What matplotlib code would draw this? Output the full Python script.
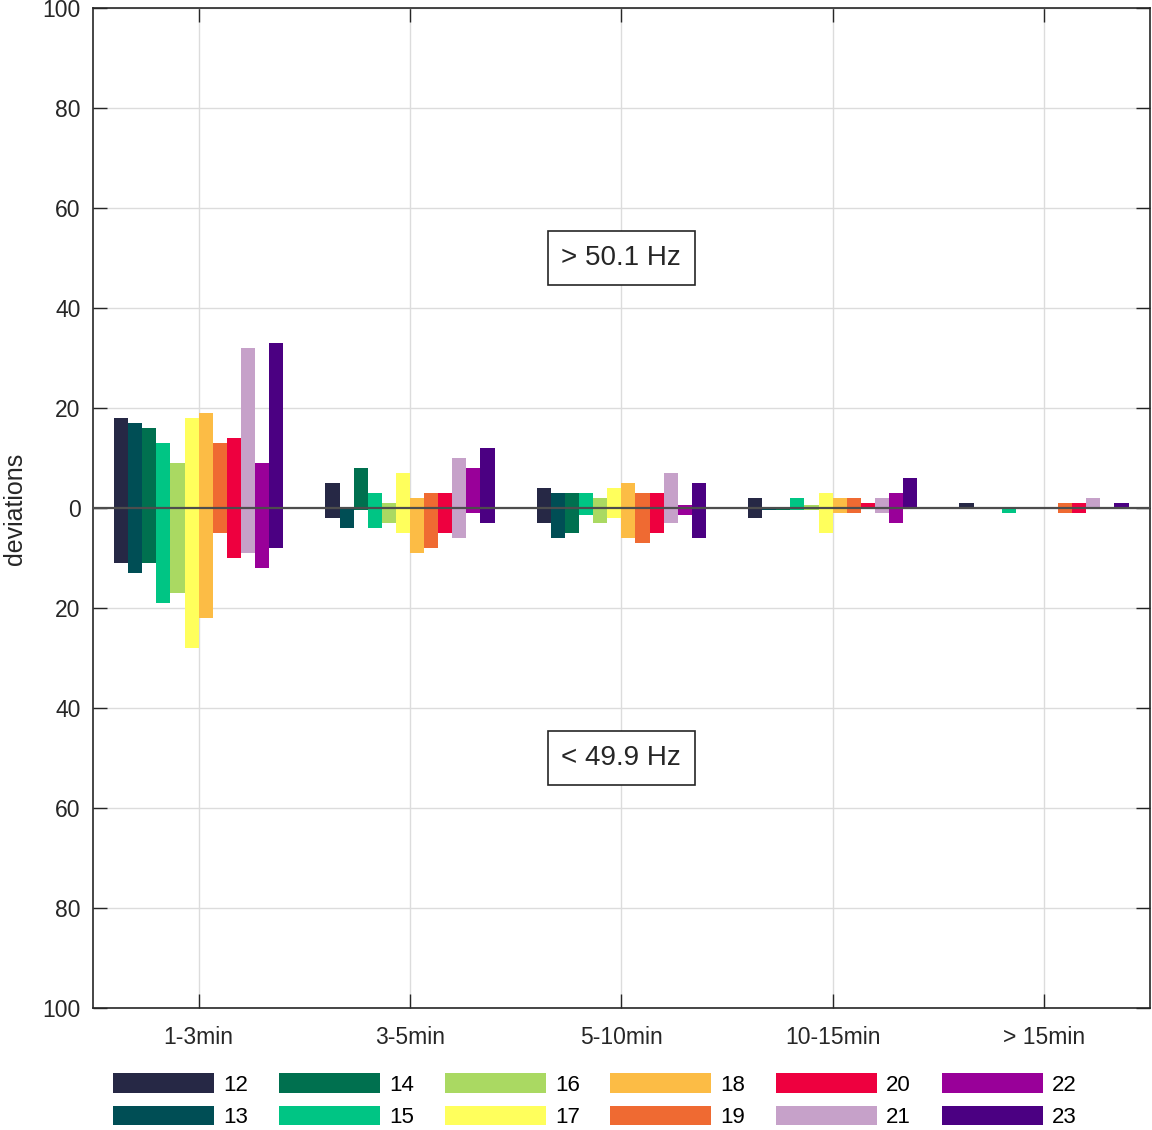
import numpy as np
import matplotlib.pyplot as plt
from matplotlib.ticker import FuncFormatter

plt.rcParams['font.family'] = ['Liberation Sans', 'DejaVu Sans']

# categories (duration of frequency deviation) and series (years)
categories = ['1-3min', '3-5min', '5-10min', '10-15min', '> 15min']
years = ['12', '13', '14', '15', '16', '17', '18', '19', '20', '21', '22', '23']
colors = ['#262845', '#004E55', '#00704F', '#00C584', '#AAD962', '#FFFF5C',
          '#FCBC45', '#EF6A32', '#EE003F', '#C6A1C9', '#990099', '#4B0082']

# deviations above 50.1 Hz, one list per year, one value per category
above = {
    '12': [18, 5, 4, 2, 1],
    '13': [17, 0, 3, 0, 0],
    '14': [16, 8, 3, 0, 0],
    '15': [13, 3, 3, 2, 0],
    '16': [9, 1, 2, 0.5, 0],
    '17': [18, 7, 4, 3, 0],
    '18': [19, 2, 5, 2, 0],
    '19': [13, 3, 3, 2, 1],
    '20': [14, 3, 3, 1, 1],
    '21': [32, 10, 7, 2, 2],
    '22': [9, 8, 0.5, 3, 0],
    '23': [33, 12, 5, 6, 1],
}
# deviations below 49.9 Hz (drawn downward)
below = {
    '12': [11, 2, 3, 2, 0],
    '13': [13, 4, 6, 0.5, 0],
    '14': [11, 0.5, 5, 0.5, 0],
    '15': [19, 4, 1.5, 0.5, 1],
    '16': [17, 3, 3, 0.5, 0],
    '17': [28, 5, 2, 5, 0],
    '18': [22, 9, 6, 1, 0],
    '19': [5, 8, 7, 1, 1],
    '20': [10, 5, 5, 0.3, 1],
    '21': [9, 6, 3, 1, 0],
    '22': [12, 1, 1.5, 3, 0],
    '23': [8, 3, 6, 0, 0],
}

fig = plt.figure(figsize=(11.52, 11.30), dpi=100)
ax = fig.add_axes([0.0807, 0.108, 0.9173, 0.8849])

x = np.arange(1, len(categories) + 1)
n = len(years)
width = 0.8 / n

for i, yr in enumerate(years):
    pos = x - 0.4 + width * (i + 0.5)
    ax.bar(pos, above[yr], width, color=colors[i], label=yr, zorder=3)
    ax.bar(pos, -np.array(below[yr]), width, color=colors[i], zorder=3)

ax.axhline(0, color='#4d4d4d', lw=1.6, zorder=4)

ax.set_xlim(0.5, 5.5)
ax.set_ylim(-100, 100)
ax.set_xticks(x)
ax.set_xticklabels(categories)
ax.set_yticks(np.arange(-100, 101, 20))
ax.yaxis.set_major_formatter(FuncFormatter(lambda v, p: f'{abs(v):.0f}'))
ax.grid(True, color='#dcdcdc', lw=1, zorder=0)
ax.tick_params(direction='in', length=10, width=1, top=True, right=True,
               labelsize=16.5, labelcolor='#262626', color='#262626')
ax.tick_params(axis='x', pad=13)
ax.tick_params(axis='y', pad=9)
for s in ax.spines.values():
    s.set_color('#262626')
    s.set_linewidth(1.2)

fig.text(0.013, 0.5496, 'deviations', rotation=90, ha='center', va='center',
         fontsize=18, color='#262626')

box = dict(boxstyle='square,pad=0.5', fc='white', ec='#262626', lw=1.2)
ax.text(3, 50, '> 50.1 Hz', ha='center', va='center', fontsize=20,
        color='#262626', bbox=box, zorder=5)
ax.text(3, -50, '< 49.9 Hz', ha='center', va='center', fontsize=20,
        color='#262626', bbox=box, zorder=5)

fig.legend(loc='upper left', bbox_to_anchor=(0.0981, 0.0504), ncol=6,
           frameon=False, fontsize=16, handlelength=4.55, handleheight=1.0,
           handletextpad=0.41, columnspacing=1.38, labelspacing=0.45,
           borderaxespad=0, borderpad=0)

fig.savefig('out.png', dpi=100)
